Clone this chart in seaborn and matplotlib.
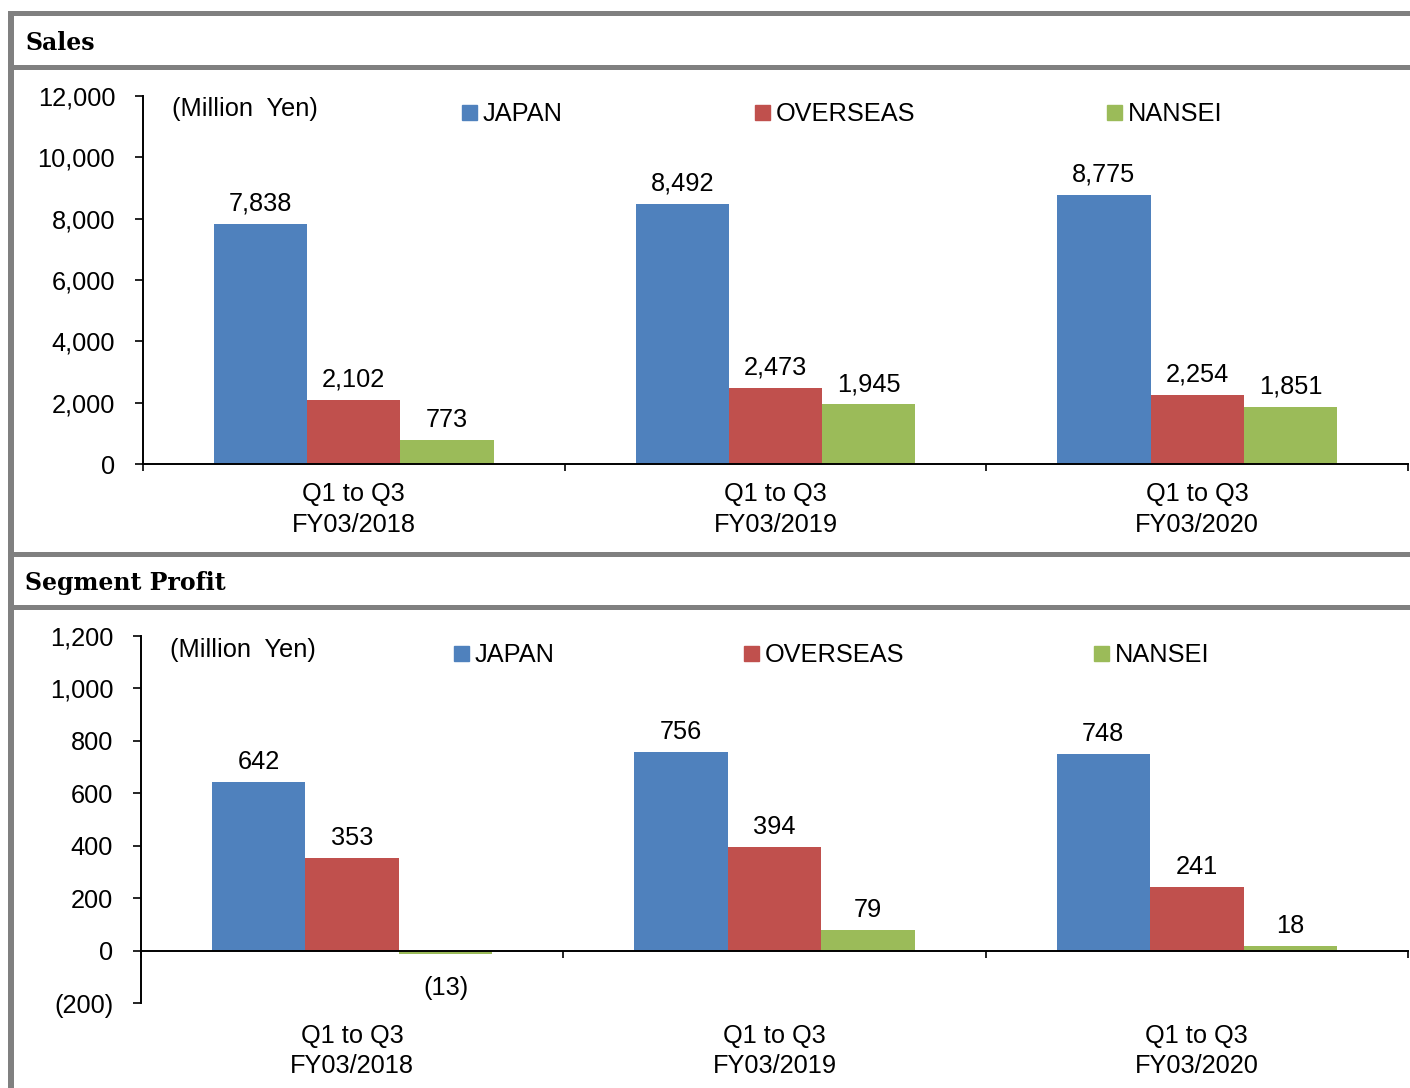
import matplotlib
matplotlib.use("Agg")
import matplotlib.pyplot as plt
import matplotlib.transforms as mtransforms
from matplotlib.patches import Rectangle
from matplotlib.lines import Line2D
from matplotlib.ticker import FuncFormatter, FixedLocator
import seaborn as sns
import pandas as pd

# ---------------- data ----------------
periods = ["Q1 to Q3\nFY03/2018", "Q1 to Q3\nFY03/2019", "Q1 to Q3\nFY03/2020"]
segments = ["JAPAN", "OVERSEAS", "NANSEI"]
sales_japan = [7838, 8492, 8775]
sales_overseas = [2102, 2473, 2254]
sales_nansei = [773, 1945, 1851]
profit_japan = [642, 756, 748]
profit_overseas = [353, 394, 241]
profit_nansei = [-13, 79, 18]
sales_ticks = [0, 2000, 4000, 6000, 8000, 10000, 12000]
profit_ticks = [-200, 0, 200, 400, 600, 800, 1000, 1200]
unit_label = "(Million  Yen)"
colors = ["#4F81BD", "#C0504D", "#9BBB59"]
frame_gray = "#808080"

sns.set_style("ticks")
plt.rcParams["font.family"] = ["Liberation Sans", "DejaVu Sans"]
for k in ["text.color", "axes.labelcolor", "xtick.color", "ytick.color",
          "axes.edgecolor"]:
    plt.rcParams[k] = "black"

FS = 18.3
W, H = 1410, 1088
fig = plt.figure(figsize=(W / 100, H / 100), dpi=100)


def rect(l, t, r, b):
    return [l / W, 1 - b / H, (r - l) / W, (b - t) / H]


def fmt(v, pos=None):
    if v < 0:
        return f"({-v:,.0f})"
    return f"{v:,.0f}"


def long_df(j, o, n):
    rows = []
    for seg, vals in zip(segments, [j, o, n]):
        for p, v in zip(periods, vals):
            rows.append({"period": p, "segment": seg, "value": v})
    return pd.DataFrame(rows)


def draw_panel(ax, df, ticks, ylim, legend_xy, colspacing, unit_xy, label_y):
    sns.barplot(data=df, x="period", y="value", hue="segment", order=periods,
                hue_order=segments, palette=colors, saturation=1, width=0.664,
                errorbar=None, legend=False, linewidth=0, ax=ax)
    ax.set_xlim(-0.5, 2.5)
    ax.set_ylim(*ylim)
    ax.set_xlabel("")
    ax.set_ylabel("")
    ax.yaxis.set_major_locator(FixedLocator(ticks))
    ax.yaxis.set_major_formatter(FuncFormatter(fmt))
    ax.xaxis.set_major_locator(FixedLocator([-0.5, 0.5, 1.5, 2.5]))
    ax.set_xticklabels([""] * 4)
    ax.tick_params(axis="y", direction="out", length=6, width=1.2,
                   labelsize=FS, pad=14, colors="black")
    ax.tick_params(axis="x", direction="out", length=5, width=1.2,
                   colors="black")
    for s in ["top", "right"]:
        ax.spines[s].set_visible(False)
    for s in ["left", "bottom"]:
        ax.spines[s].set_linewidth(1.4)
        ax.spines[s].set_color("black")
    ax.spines["bottom"].set_position(("data", 0))
    ax.patch.set_alpha(0)
    trans = mtransforms.blended_transform_factory(ax.transData, ax.transAxes)
    for i, p in enumerate(periods):
        ax.text(i, label_y, p, transform=trans, ha="center", va="top",
                fontsize=FS, linespacing=1.36, color="black")
    for cont in ax.containers:
        vals = cont.datavalues
        ax.bar_label(cont, labels=[fmt(v) if v >= 0 else "" for v in vals],
                     padding=6, fontsize=FS, color="black")
        if any(v < 0 for v in vals):
            ax.bar_label(cont, labels=[fmt(v) if v < 0 else "" for v in vals],
                         padding=16, fontsize=FS, color="black")
    handles = [Line2D([], [], marker="s", ls="", color=c, markersize=10.8)
               for c in colors]
    ax.legend(handles, segments, ncol=3, loc="center left",
              bbox_to_anchor=(legend_xy[0] / W, 1 - legend_xy[1] / H),
              bbox_transform=fig.transFigure, frameon=False,
              handlelength=0.68, handletextpad=0.2, columnspacing=colspacing,
              borderpad=0, borderaxespad=0, fontsize=FS)
    fig.text(unit_xy[0] / W, 1 - unit_xy[1] / H, unit_label, ha="left",
             va="center", fontsize=FS, color="black")


ax1 = fig.add_axes(rect(143, 96, 1408, 464))
draw_panel(ax1, long_df(sales_japan, sales_overseas, sales_nansei),
           sales_ticks, (0, 12000), (460, 114), 7.5, (172, 109), -0.050)

ax2 = fig.add_axes(rect(141, 636, 1408, 1003))
draw_panel(ax2, long_df(profit_japan, profit_overseas, profit_nansei),
           profit_ticks, (-200, 1200), (452, 655), 7.4, (170, 650), -0.056)

# frame and header bars
for (l, t, r, b) in [(8, 11, 14, 1088), (8, 11, 1410, 16), (8, 65, 1410, 70),
                     (8, 552, 1410, 557), (8, 605, 1410, 610)]:
    fig.add_artist(Rectangle((l / W, 1 - b / H), (r - l) / W, (b - t) / H,
                             transform=fig.transFigure, facecolor=frame_gray,
                             edgecolor="none"))

fig.text(25 / W, 1 - 43 / H, "Sales", ha="left", va="center", fontsize=17,
         family=["DejaVu Serif"], weight="bold", color="black")
fig.text(25 / W, 1 - 583 / H, "Segment Profit", ha="left", va="center",
         fontsize=17, family=["DejaVu Serif"], weight="bold", color="black")

fig.savefig("out.png", dpi=100)
